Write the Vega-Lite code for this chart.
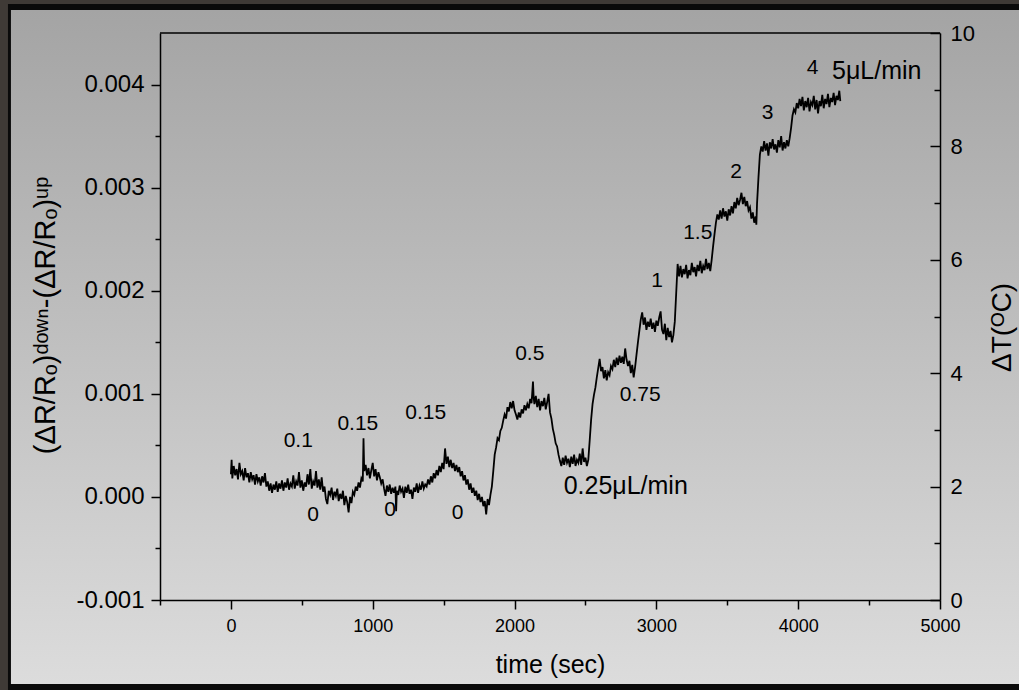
{
"$schema": "https://vega.github.io/schema/vega-lite/v6.json",
"width": 780,
"height": 567,
"autosize": {"type": "none"},
"padding": {"left": 160, "top": 33, "right": 79, "bottom": 90},
"background": "#c0c0c0",
"config": {
  "view": {"stroke": "#000000", "strokeWidth": 1.5},
  "font": "Liberation Sans",
  "axis": {"grid": false, "zindex": 1, "domainColor": "#000000", "domainWidth": 1.5, "tickColor": "#000000", "tickWidth": 1.5, "labelColor": "#000000", "titleColor": "#000000", "labelFont": "Liberation Sans", "titleFont": "Liberation Sans", "titleFontWeight": "normal", "labelFlush": false, "labelOverlap": false}
},
"datasets": {
  "trace": [
{"t":0,"v":0.00022},{"t":5,"v":0.00036},{"t":10,"v":0.00018},{"t":20,"v":0.00030},{"t":30,"v":0.00021},{"t":40,"v":0.00027},{"t":50,"v":0.00017},{"t":60,"v":0.00033},{"t":70,"v":0.00022},{"t":80,"v":0.00025},{"t":90,"v":0.00016},{"t":100,"v":0.00028},{"t":110,"v":0.00019},{"t":120,"v":0.00023},{"t":130,"v":0.00014},{"t":140,"v":0.00024},{"t":150,"v":0.00017},{"t":160,"v":0.00021},{"t":170,"v":0.00012},{"t":180,"v":0.00022},{"t":190,"v":0.00015},{"t":200,"v":0.00019},{"t":210,"v":0.00011},{"t":220,"v":0.00020},{"t":230,"v":0.00014},{"t":240,"v":0.00023},{"t":250,"v":0.00010},{"t":260,"v":0.00015},{"t":270,"v":0.00006},{"t":280,"v":0.00013},{"t":290,"v":0.00004},{"t":300,"v":0.00012},
{"t":310,"v":0.00007},{"t":320,"v":0.00015},{"t":330,"v":0.00005},{"t":340,"v":0.00013},{"t":350,"v":0.00008},{"t":360,"v":0.00016},{"t":370,"v":0.00006},{"t":380,"v":0.00014},{"t":390,"v":0.00009},{"t":400,"v":0.00018},{"t":410,"v":0.00007},{"t":420,"v":0.00013},{"t":430,"v":0.00010},{"t":440,"v":0.00021},{"t":450,"v":0.00008},{"t":460,"v":0.00015},{"t":470,"v":0.00011},{"t":480,"v":0.00024},{"t":490,"v":0.00009},{"t":500,"v":0.00016},{"t":510,"v":0.00006},{"t":520,"v":0.00014},{"t":530,"v":0.00010},{"t":540,"v":0.00022},{"t":550,"v":0.00012},{"t":560,"v":0.00027},{"t":570,"v":0.00008},{"t":580,"v":0.00015},{"t":590,"v":0.00011},{"t":600,"v":0.00025},{"t":610,"v":0.00009},{"t":620,"v":0.00017},{"t":630,"v":0.00007},{"t":640,"v":0.00019},{"t":650,"v":0.00005},
{"t":660,"v":0.00010},{"t":670,"v":-0.00002},{"t":680,"v":-0.00007},{"t":690,"v":0.00006},{"t":700,"v":0.00002},{"t":710,"v":0.00009},{"t":720,"v":-0.00003},{"t":730,"v":0.00005},{"t":740,"v":0.00001},{"t":750,"v":0.00008},{"t":760,"v":-0.00004},{"t":770,"v":0.00003},{"t":780,"v":-0.00002},{"t":790,"v":0.00006},{"t":800,"v":-0.00008},{"t":810,"v":0.00001},{"t":820,"v":-0.00005},{"t":830,"v":-0.00015},{"t":840,"v":0.0},{"t":850,"v":-0.00006},
{"t":860,"v":0.00005},{"t":870,"v":0.00002},{"t":880,"v":0.00010},{"t":890,"v":0.00006},{"t":900,"v":0.00014},{"t":910,"v":0.00009},{"t":920,"v":0.00018},{"t":930,"v":0.00015},{"t":935,"v":0.00057},{"t":940,"v":0.00025},
{"t":950,"v":0.00031},{"t":960,"v":0.00021},{"t":970,"v":0.00028},{"t":980,"v":0.00018},{"t":990,"v":0.00026},{"t":1000,"v":0.00033},{"t":1010,"v":0.00020},{"t":1020,"v":0.00027},{"t":1030,"v":0.00016},{"t":1040,"v":0.00024},{"t":1050,"v":0.00019},{"t":1060,"v":0.00013},{"t":1070,"v":0.00017},{"t":1080,"v":0.00008},{"t":1090,"v":0.00001},{"t":1100,"v":0.00011},
{"t":1110,"v":0.00005},{"t":1120,"v":0.00012},{"t":1130,"v":0.00003},{"t":1140,"v":0.00009},{"t":1150,"v":0.00004},{"t":1160,"v":0.00010},{"t":1165,"v":-0.00014},{"t":1170,"v":0.00006},{"t":1180,"v":0.00002},{"t":1190,"v":0.00011},{"t":1200,"v":0.00005},{"t":1210,"v":0.00008},{"t":1220,"v":-0.00001},{"t":1230,"v":0.00010},{"t":1240,"v":0.00004},{"t":1250,"v":0.00012},{"t":1260,"v":0.00003},{"t":1270,"v":0.00007},{"t":1280,"v":-0.00002},{"t":1290,"v":0.00009},{"t":1300,"v":0.00005},{"t":1310,"v":0.00013},{"t":1320,"v":0.00004},{"t":1330,"v":0.00011},{"t":1340,"v":0.00007},{"t":1350,"v":0.00015},{"t":1360,"v":0.00008},{"t":1370,"v":0.00012},{"t":1380,"v":0.00010},
{"t":1390,"v":0.00017},{"t":1400,"v":0.00012},{"t":1410,"v":0.00020},{"t":1420,"v":0.00014},{"t":1430,"v":0.00023},{"t":1440,"v":0.00018},{"t":1450,"v":0.00026},{"t":1460,"v":0.00021},{"t":1470,"v":0.00030},{"t":1480,"v":0.00024},{"t":1490,"v":0.00033},{"t":1500,"v":0.00027},{"t":1510,"v":0.00047},{"t":1520,"v":0.00032},{"t":1530,"v":0.00039},
{"t":1540,"v":0.00029},{"t":1550,"v":0.00036},{"t":1560,"v":0.00028},{"t":1570,"v":0.00033},{"t":1580,"v":0.00025},{"t":1590,"v":0.00031},{"t":1600,"v":0.00024},{"t":1610,"v":0.00029},{"t":1620,"v":0.00020},
{"t":1630,"v":0.00025},{"t":1640,"v":0.00016},{"t":1650,"v":0.00021},{"t":1660,"v":0.00012},{"t":1670,"v":0.00017},{"t":1680,"v":0.00007},{"t":1690,"v":0.00013},{"t":1700,"v":0.00004},{"t":1710,"v":0.00009},{"t":1720,"v":0.00001},{"t":1730,"v":0.00006},{"t":1740,"v":-0.00003},{"t":1750,"v":0.00003},{"t":1760,"v":-0.00005},{"t":1770,"v":0.0},{"t":1780,"v":-0.00009},{"t":1790,"v":-0.00004},{"t":1800,"v":-0.00017},{"t":1810,"v":-0.00002},{"t":1820,"v":-0.00008},{"t":1830,"v":0.00002},{"t":1840,"v":0.00010},
{"t":1850,"v":0.00025},{"t":1860,"v":0.00041},{"t":1870,"v":0.00048},{"t":1880,"v":0.00057},{"t":1890,"v":0.00055},{"t":1900,"v":0.00064},{"t":1910,"v":0.00067},{"t":1920,"v":0.00074},{"t":1930,"v":0.00080},{"t":1940,"v":0.00076},{"t":1950,"v":0.00087},{"t":1960,"v":0.00083},{"t":1970,"v":0.00092},{"t":1980,"v":0.00086},{"t":1990,"v":0.00093},{"t":2000,"v":0.00084},{"t":2010,"v":0.00080},{"t":2020,"v":0.00075},{"t":2030,"v":0.00082},{"t":2040,"v":0.00077},{"t":2050,"v":0.00085},{"t":2060,"v":0.00081},{"t":2070,"v":0.00089},{"t":2080,"v":0.00084},{"t":2090,"v":0.00090},{"t":2100,"v":0.00086},{"t":2110,"v":0.00095},{"t":2120,"v":0.00091},{"t":2130,"v":0.00112},{"t":2135,"v":0.00096},{"t":2140,"v":0.00090},{"t":2150,"v":0.00098},{"t":2160,"v":0.00087},{"t":2170,"v":0.00095},{"t":2180,"v":0.00084},{"t":2190,"v":0.00093},{"t":2200,"v":0.00088},{"t":2210,"v":0.00096},{"t":2220,"v":0.00085},{"t":2230,"v":0.00092},{"t":2240,"v":0.00100},{"t":2250,"v":0.00082},{"t":2260,"v":0.00076},{"t":2270,"v":0.00066},{"t":2280,"v":0.00060},{"t":2290,"v":0.00052},{"t":2300,"v":0.00049},{"t":2310,"v":0.00041},{"t":2320,"v":0.00035},{"t":2330,"v":0.00030},{"t":2340,"v":0.00038},{"t":2350,"v":0.00031},{"t":2360,"v":0.00040},{"t":2370,"v":0.00033},{"t":2380,"v":0.00037},{"t":2390,"v":0.00029},{"t":2400,"v":0.00039},{"t":2410,"v":0.00032},{"t":2420,"v":0.00041},{"t":2430,"v":0.00030},{"t":2440,"v":0.00036},{"t":2450,"v":0.00033},{"t":2460,"v":0.00042},{"t":2470,"v":0.00031},{"t":2480,"v":0.00047},{"t":2490,"v":0.00034},{"t":2500,"v":0.00038},{"t":2510,"v":0.00030},{"t":2520,"v":0.00036},{"t":2530,"v":0.00055},{"t":2540,"v":0.00075},{"t":2550,"v":0.00090},{"t":2560,"v":0.00099},{"t":2570,"v":0.00106},{"t":2580,"v":0.00116},{"t":2590,"v":0.00125},{"t":2600,"v":0.00134},
{"t":2610,"v":0.00122},{"t":2620,"v":0.00126},{"t":2630,"v":0.00115},{"t":2640,"v":0.00123},{"t":2650,"v":0.00113},{"t":2660,"v":0.00121},{"t":2670,"v":0.00118},{"t":2680,"v":0.00127},{"t":2690,"v":0.00124},{"t":2700,"v":0.00133},{"t":2710,"v":0.00126},{"t":2720,"v":0.00135},{"t":2730,"v":0.00128},{"t":2740,"v":0.00137},{"t":2750,"v":0.00130},{"t":2760,"v":0.00136},{"t":2770,"v":0.00129},{"t":2780,"v":0.00144},{"t":2790,"v":0.00133},{"t":2800,"v":0.00127},{"t":2810,"v":0.00132},{"t":2820,"v":0.00120},{"t":2830,"v":0.00128},{"t":2840,"v":0.00116},{"t":2850,"v":0.00126},{"t":2860,"v":0.00138},{"t":2870,"v":0.00150},{"t":2880,"v":0.00161},{"t":2890,"v":0.00172},{"t":2900,"v":0.00179},{"t":2910,"v":0.00167},{"t":2920,"v":0.00174},{"t":2930,"v":0.00162},{"t":2940,"v":0.00170},{"t":2950,"v":0.00165},{"t":2960,"v":0.00173},{"t":2970,"v":0.00163},{"t":2980,"v":0.00169},{"t":2990,"v":0.00160},{"t":3000,"v":0.00171},{"t":3010,"v":0.00166},{"t":3020,"v":0.00174},{"t":3030,"v":0.00180},{"t":3040,"v":0.00162},{"t":3050,"v":0.00158},{"t":3060,"v":0.00168},{"t":3070,"v":0.00152},{"t":3080,"v":0.00164},{"t":3090,"v":0.00155},{"t":3100,"v":0.00161},{"t":3110,"v":0.00150},{"t":3120,"v":0.00157},{"t":3130,"v":0.00170},{"t":3140,"v":0.00198},{"t":3150,"v":0.00226},
{"t":3160,"v":0.00214},{"t":3170,"v":0.00224},{"t":3180,"v":0.00213},{"t":3190,"v":0.00221},{"t":3200,"v":0.00216},{"t":3210,"v":0.00225},{"t":3220,"v":0.00212},{"t":3230,"v":0.00220},{"t":3240,"v":0.00215},{"t":3250,"v":0.00227},{"t":3260,"v":0.00218},{"t":3270,"v":0.00223},{"t":3280,"v":0.00214},{"t":3290,"v":0.00225},{"t":3300,"v":0.00219},{"t":3310,"v":0.00229},{"t":3320,"v":0.00217},{"t":3330,"v":0.00224},{"t":3340,"v":0.00220},{"t":3350,"v":0.00231},{"t":3360,"v":0.00221},{"t":3370,"v":0.00227},{"t":3380,"v":0.00219},{"t":3390,"v":0.00230},{"t":3400,"v":0.00243},{"t":3410,"v":0.00255},{"t":3420,"v":0.00266},{"t":3430,"v":0.00274},
{"t":3440,"v":0.00269},{"t":3450,"v":0.00278},{"t":3460,"v":0.00270},{"t":3470,"v":0.00280},{"t":3480,"v":0.00272},{"t":3490,"v":0.00277},{"t":3500,"v":0.00268},{"t":3510,"v":0.00279},{"t":3520,"v":0.00273},{"t":3530,"v":0.00282},{"t":3540,"v":0.00275},{"t":3550,"v":0.00286},{"t":3560,"v":0.00280},{"t":3570,"v":0.00290},{"t":3580,"v":0.00283},{"t":3590,"v":0.00288},{"t":3600,"v":0.00295},{"t":3610,"v":0.00284},{"t":3620,"v":0.00291},{"t":3630,"v":0.00282},{"t":3640,"v":0.00287},{"t":3650,"v":0.00278},{"t":3660,"v":0.00281},{"t":3670,"v":0.00270},{"t":3680,"v":0.00276},{"t":3690,"v":0.00266},{"t":3700,"v":0.00272},{"t":3705,"v":0.00264},{"t":3710,"v":0.00285},{"t":3720,"v":0.00310},{"t":3730,"v":0.00332},
{"t":3740,"v":0.00340},{"t":3750,"v":0.00335},{"t":3760,"v":0.00345},{"t":3770,"v":0.00336},{"t":3780,"v":0.00343},{"t":3790,"v":0.00331},{"t":3800,"v":0.00344},{"t":3810,"v":0.00338},{"t":3820,"v":0.00347},{"t":3830,"v":0.00337},{"t":3840,"v":0.00342},{"t":3850,"v":0.00334},{"t":3860,"v":0.00346},{"t":3870,"v":0.00339},{"t":3880,"v":0.00350},{"t":3890,"v":0.00336},{"t":3900,"v":0.00344},{"t":3910,"v":0.00338},{"t":3920,"v":0.00346},{"t":3930,"v":0.00340},{"t":3940,"v":0.00348},{"t":3950,"v":0.00358},{"t":3960,"v":0.00370},
{"t":3970,"v":0.00376},{"t":3980,"v":0.00373},{"t":3990,"v":0.00382},{"t":4000,"v":0.00377},{"t":4010,"v":0.00386},{"t":4020,"v":0.00379},{"t":4030,"v":0.00388},{"t":4040,"v":0.00375},{"t":4050,"v":0.00384},{"t":4060,"v":0.00378},{"t":4070,"v":0.00387},{"t":4080,"v":0.00374},{"t":4090,"v":0.00383},{"t":4100,"v":0.00380},{"t":4110,"v":0.00389},{"t":4120,"v":0.00376},{"t":4130,"v":0.00385},{"t":4140,"v":0.00372},{"t":4150,"v":0.00384},{"t":4160,"v":0.00379},{"t":4170,"v":0.00390},{"t":4180,"v":0.00377},{"t":4190,"v":0.00386},{"t":4200,"v":0.00381},{"t":4210,"v":0.00391},{"t":4220,"v":0.00378},{"t":4230,"v":0.00387},{"t":4240,"v":0.00383},{"t":4250,"v":0.00392},{"t":4260,"v":0.00380},{"t":4270,"v":0.00389},{"t":4280,"v":0.00385},{"t":4290,"v":0.00394},{"t":4297,"v":0.00384}
  ],
  "rates": [
{"label":"0.1","t":475,"v":0.00054},
{"label":"0","t":580,"v":-0.00018},
{"label":"0.15","t":895,"v":0.00071},
{"label":"0","t":1123,"v":-0.00013},
{"label":"0.15","t":1374,"v":0.00081},
{"label":"0","t":1599,"v":-0.00016},
{"label":"0.5","t":2107,"v":0.00139},
{"label":"0.75","t":2886,"v":0.00099},
{"label":"1","t":3006,"v":0.00209},
{"label":"1.5","t":3292,"v":0.00256},
{"label":"2","t":3563,"v":0.00315},
{"label":"3","t":3785,"v":0.00372},
{"label":"4","t":4102,"v":0.00416}
  ],
  "units": [
{"label":"0.25μL/min","t":2784,"v":0.00011},
{"label":"5μL/min","t":4554,"v":0.00413}
  ]
},
"resolve": {"scale": {"y": "independent"}},
"layer": [
  {
    "data": {"values": [{}]},
    "layer": [
      {
        "mark": {"type": "rect", "fill": "#3f3a36", "clip": false},
        "encoding": {
          "x": {"datum": -1700, "type": "quantitative", "scale": {"domain": [-500, 5000], "nice": false, "zero": false}},
          "x2": {"datum": 5700},
          "y": {"datum": -2, "type": "quantitative", "scale": {"domain": [0, 10], "nice": false, "zero": false},
            "axis": {"orient": "right", "zindex": 2, "values": [0,1,2,3,4,5,6,7,8,9,10], "labelExpr": "datum.value % 2 == 0 ? format(datum.value, 'd') : ''", "tickSize": {"condition": {"test": "datum.value % 2 != 0", "value": -6}, "value": -10}, "labelPadding": 20, "labelFontSize": 22, "title": "ΔT(ᴼC)", "titleFontSize": 28, "titleAngle": 270, "titleX": 48, "titleY": 294, "titleBaseline": "top", "titleAlign": "center"}},
          "y2": {"datum": 11}
        }
      },
      {
        "mark": {"type": "rect", "fill": "#0a0a0a", "clip": false},
        "encoding": {
          "x": {"datum": -1572, "type": "quantitative", "scale": {"domain": [-500, 5000], "nice": false, "zero": false}},
          "x2": {"datum": 5700},
          "y": {"datum": -2, "type": "quantitative", "scale": {"domain": [0, 10], "nice": false, "zero": false}},
          "y2": {"datum": 10.511}
        }
      },
      {
        "mark": {"type": "rect", "clip": false, "fill": {"gradient": "linear", "x1": 0, "y1": 0, "x2": 0, "y2": 1, "stops": [{"offset": 0, "color": "#a4a4a4"}, {"offset": 1, "color": "#dcdcdc"}]}},
        "encoding": {
          "x": {"datum": -1551, "type": "quantitative", "scale": {"domain": [-500, 5000], "nice": false, "zero": false}},
          "x2": {"datum": 5700},
          "y": {"datum": -1.481, "type": "quantitative", "scale": {"domain": [0, 10], "nice": false, "zero": false}},
          "y2": {"datum": 10.406}
        }
      },
      {
        "mark": {"type": "rule", "color": "#000000", "strokeWidth": 1.5},
        "encoding": {
          "y": {"datum": 10, "type": "quantitative", "scale": {"domain": [0, 10], "nice": false, "zero": false}}
        }
      }
    ]
  },
  {
    "layer": [
      {
        "data": {"name": "trace"},
        "mark": {"type": "line", "color": "#000000", "strokeWidth": 1.8, "clip": true},
        "encoding": {
          "x": {"field": "t", "type": "quantitative", "scale": {"domain": [-500, 5000], "nice": false, "zero": false},
            "axis": {"orient": "bottom", "zindex": 2, "values": [-500,0,500,1000,1500,2000,2500,3000,3500,4000,4500,5000], "labelExpr": "datum.value % 1000 == 0 ? format(datum.value, 'd') : ''", "tickSize": {"condition": {"test": "datum.value % 1000 != 0", "value": 5}, "value": 9}, "labelPadding": 8, "labelFontSize": 18, "title": "time (sec)", "titleFontSize": 25, "titleX": 390, "titleY": 72, "titleBaseline": "alphabetic", "titleAlign": "center"}},
          "y": {"field": "v", "type": "quantitative", "scale": {"domain": [-0.001, 0.0045], "nice": false, "zero": false},
            "axis": {"orient": "left", "zindex": 2, "values": [-0.001,-0.0005,0,0.0005,0.001,0.0015,0.002,0.0025,0.003,0.0035,0.004], "labelExpr": "round(datum.value*2000) % 2 != 0 ? '' : (datum.value < 0 ? '-' + format(-datum.value, '.3f') : format(datum.value, '.3f'))", "tickSize": {"condition": {"test": "round(datum.value*2000) % 2 != 0", "value": 5}, "value": 9}, "labelPadding": 7, "labelFontSize": 24, "title": "(ΔR/Rₒ)ᵈᵒʷⁿ-(ΔR/Rₒ)ᵘᵖ", "titleFontSize": 29, "titleAngle": -90, "titleX": -106, "titleY": 282, "titleBaseline": "alphabetic", "titleAlign": "center"}}
        }
      },
      {
        "data": {"name": "rates"},
        "mark": {"type": "text", "fontSize": 21, "font": "Liberation Sans", "align": "center", "baseline": "middle", "color": "#000000"},
        "encoding": {
          "x": {"field": "t", "type": "quantitative", "scale": {"domain": [-500, 5000], "nice": false, "zero": false}},
          "y": {"field": "v", "type": "quantitative", "scale": {"domain": [-0.001, 0.0045], "nice": false, "zero": false}},
          "text": {"field": "label"}
        }
      },
      {
        "data": {"name": "units"},
        "mark": {"type": "text", "fontSize": 25, "font": "Liberation Sans", "align": "center", "baseline": "middle", "color": "#000000"},
        "encoding": {
          "x": {"field": "t", "type": "quantitative", "scale": {"domain": [-500, 5000], "nice": false, "zero": false}},
          "y": {"field": "v", "type": "quantitative", "scale": {"domain": [-0.001, 0.0045], "nice": false, "zero": false}},
          "text": {"field": "label"}
        }
      }
    ]
  }
]
}
